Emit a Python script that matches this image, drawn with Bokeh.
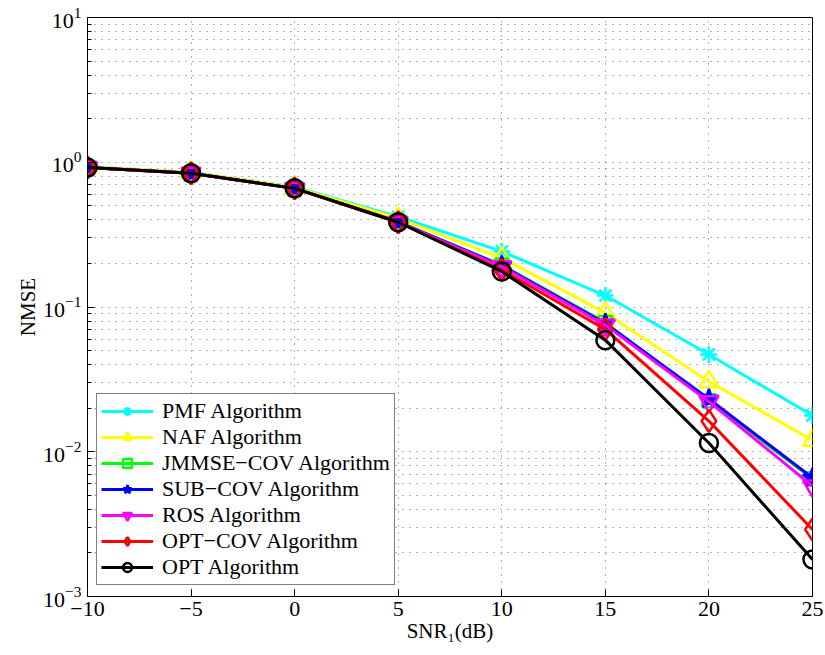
from bokeh.plotting import figure
from bokeh.models import Range1d, FixedTicker, Legend, LegendItem
from bokeh.embed import file_html
from bokeh.resources import INLINE

snr = [-10, -5, 0, 5, 10, 15, 20, 25]
pmf = [0.93, 0.85, 0.675, 0.42, 0.242, 0.120, 0.047, 0.0178]
naf = [0.93, 0.85, 0.670, 0.41, 0.218, 0.091, 0.0305, 0.0120]
jmmse = [0.92, 0.84, 0.66, 0.388, 0.195, 0.078, 0.0225, 0.0065]
sub = [0.92, 0.84, 0.66, 0.388, 0.193, 0.077, 0.0232, 0.0066]
ros = [0.92, 0.84, 0.66, 0.385, 0.190, 0.075, 0.0222, 0.0058]
optcov = [0.92, 0.84, 0.66, 0.385, 0.180, 0.070, 0.0163, 0.0029]
opt = [0.92, 0.84, 0.66, 0.385, 0.176, 0.059, 0.0115, 0.0018]

names = ["PMF Algorithm", "NAF Algorithm", "JMMSE\u2212COV Algorithm", "SUB\u2212COV Algorithm",
         "ROS Algorithm", "OPT\u2212COV Algorithm", "OPT Algorithm"]
series = [pmf, naf, jmmse, sub, ros, optcov, opt]
colors = ["#00FFFF", "#FFFF00", "#00FF00", "#0000FF", "#FF00FF", "#FF0000", "#000000"]
markers = ["asterisk", "triangle", "square", "star", "inverted_triangle", "diamond", "circle"]
msizes = [17, 19, 13, 20, 19, 22, 18]
filled = [False, False, False, True, False, False, False]

x_ticks = [-10, -5, 0, 5, 10, 15, 20, 25]
x_labels = ["\u221210", "\u22125", "0", "5", "10", "15", "20", "25"]
y_ticks = [1e-3, 1e-2, 1e-1, 1.0, 10.0]

FONT = "Liberation Serif"

p = figure(width=825, height=655, x_range=Range1d(-10, 25), y_range=Range1d(1e-3, 10),
           y_axis_type="log", output_backend="svg", toolbar_location=None,
           min_border_left=87, min_border_right=13, min_border_top=17, min_border_bottom=59)
p.background_fill_color = "white"
p.border_fill_color = "white"
p.outline_line_color = "black"
p.outline_line_width = 1
p.outline_line_alpha = 1

minor = [m * 10.0 ** e for e in range(-3, 1) for m in range(2, 10)]
p.xaxis.ticker = FixedTicker(ticks=x_ticks)
p.xaxis.major_label_overrides = {t: l for t, l in zip(x_ticks, x_labels)}
p.yaxis.ticker = FixedTicker(ticks=y_ticks, minor_ticks=minor)

for ax in (p.xaxis[0], p.yaxis[0]):
    ax.major_label_text_font = FONT
    ax.major_label_text_font_size = "22px"
    ax.major_label_text_color = "black"
    ax.axis_label_text_font = FONT
    ax.axis_label_text_font_size = "21px"
    ax.axis_label_text_font_style = "normal"
    ax.axis_label_text_color = "black"
    ax.axis_line_color = "black"
    ax.major_tick_in = 7
    ax.major_tick_out = 0
    ax.minor_tick_in = 4
    ax.minor_tick_out = 0
    ax.major_tick_line_color = "black"
    ax.minor_tick_line_color = "black"
p.xaxis.minor_tick_line_color = None
p.xaxis.axis_label = "SNR\u2081(dB)"
p.yaxis.axis_label = "NMSE"
p.xaxis.major_label_standoff = 5
p.xaxis.axis_label_standoff = 0
p.yaxis.major_label_standoff = 6
p.yaxis.axis_label_standoff = 0

p.xgrid.grid_line_color = "black"
p.xgrid.grid_line_alpha = 0.6
p.xgrid.grid_line_dash = "1 6"
p.ygrid.grid_line_color = "black"
p.ygrid.grid_line_alpha = 0.6
p.ygrid.grid_line_dash = "1 6"
p.ygrid.minor_grid_line_color = "black"
p.ygrid.minor_grid_line_alpha = 0.6
p.ygrid.minor_grid_line_dash = "1 6"

items = []
for name, ys, c, mk, ms, fl in zip(names, series, colors, markers, msizes, filled):
    ln = p.line(snr, ys, line_color=c, line_width=3)
    sc = p.scatter(snr, ys, marker=mk, size=ms, line_color=c, line_width=2.5,
                   fill_color=c if fl else None)
    items.append(LegendItem(label=name, renderers=[ln, sc]))

legend = Legend(items=items, location=(9, 11))
legend.label_text_font = FONT
legend.label_text_font_size = "22px"
legend.label_text_color = "black"
legend.glyph_width = 52
legend.glyph_height = 22
legend.label_height = 22
legend.label_standoff = 9
legend.spacing = 0
legend.padding = 4
legend.margin = 0
legend.border_line_color = "black"
legend.border_line_width = 1
legend.background_fill_color = "white"
legend.background_fill_alpha = 1
p.add_layout(legend, "center")

open("out.html", "w").write(file_html(p, INLINE))
